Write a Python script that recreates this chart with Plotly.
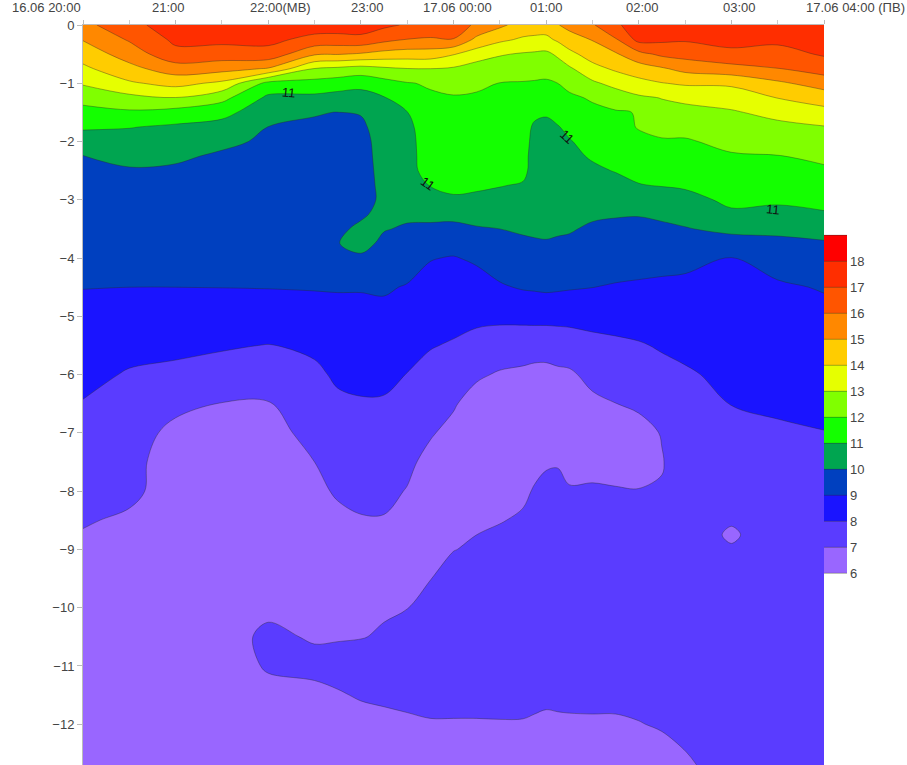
import numpy as np
import plotly.graph_objects as go

# hours after 16.06 20:00
hours = [0, .5, 1, 1.5, 2, 2.5, 2.75, 3, 3.25, 3.5, 3.75, 4, 4.25, 4.5, 4.75, 4.875, 5, 5.125, 5.25, 5.5, 5.75, 6, 6.25, 6.5, 7, 7.5, 8]
depths = [0, -.25, -.5, -.75, -1, -1.25, -1.5, -1.75, -2, -2.25, -2.5, -2.75, -3, -3.25, -3.5, -3.75, -4,
          -4.5, -5, -5.5, -6, -6.5, -7, -7.5, -8, -8.5, -8.75, -9, -9.5, -10, -10.5, -11, -11.5, -12, -12.5, -12.7]

# temperature profiles, one per time, same order as depths
t2000 = [15.7,15.05,14.44,13.79,13.1,12.33,11.68,11.13,10.52,9.98,9.88,9.77,9.66,9.55,9.45,9.34,9.23,9.02,8.75,8.49,8.22,7.96,7.72,7.5,7.27,7.04,6.97,6.9,6.85,6.8,6.7,6.65,6.6,6.55,6.5,6.5]
t2030 = [16.7,16.1,15.43,14.71,13.86,12.72,11.85,11.04,10.6,10.18,9.94,9.82,9.7,9.58,9.47,9.35,9.24,9.0,8.63,8.25,7.93,7.72,7.51,7.31,7.1,6.93,6.9,6.88,6.84,6.8,6.75,6.7,6.65,6.6,6.55,6.5]
t2100 = [17.5,17.2,16.72,15.51,14.32,12.97,11.62,10.85,10.47,10.09,9.92,9.8,9.69,9.57,9.46,9.34,9.23,9.0,8.6,8.22,7.78,7.28,6.7,6.5,6.8,6.7,6.7,6.7,6.72,6.72,6.7,6.68,6.65,6.6,6.55,6.5]
t2130 = [17.5,17.25,16.53,15.34,13.78,12.3,11.3,10.65,10.12,9.92,9.82,9.72,9.62,9.52,9.41,9.31,9.21,9.01,8.57,8.11,7.56,6.97,6.9,6.8,6.75,6.72,6.72,6.72,6.75,6.75,6.8,6.75,6.68,6.62,6.57,6.52]
t2200 = [17.5,17.25,16.65,14.92,11.7,10.8,10.39,9.99,9.91,9.82,9.74,9.65,9.56,9.47,9.38,9.29,9.2,9.03,8.5,7.97,7.43,6.95,6.7,6.85,6.8,6.8,6.8,6.8,6.85,6.9,7.1,7.05,6.85,6.7,6.6,6.55]
t2230 = [17.5,16.7,15.12,12.96,11.63,10.77,10.03,9.93,9.84,9.76,9.68,9.6,9.52,9.44,9.36,9.28,9.2,9.05,8.66,8.17,7.82,7.55,7.27,7.0,6.9,6.85,6.85,6.85,6.85,6.9,6.95,7.15,6.85,6.75,6.6,6.55]
t2245 = [17.5,16.65,15.05,12.79,11.48,10.63,9.99,9.92,9.83,9.75,9.67,9.59,9.5,9.55,9.8,9.97,9.55,9.05,8.78,8.46,8.14,7.84,7.59,7.32,7.05,6.9,6.87,6.85,6.85,6.9,6.96,7.2,6.95,6.78,6.62,6.57]
t2300 = [17.5,16.73,14.89,12.6,11.3,10.61,10.08,9.75,9.6,9.55,9.5,9.45,9.45,9.85,10.2,10.3,9.85,9.05,8.78,8.49,8.2,7.93,7.68,7.43,7.19,6.95,6.92,6.9,6.9,6.95,6.98,7.25,7.05,6.8,6.65,6.6]
t2315 = [17.2,16.27,14.63,12.83,11.63,10.95,10.8,10.65,10.5,10.45,10.4,10.35,10.3,10.3,10.05,9.8,9.55,9.1,8.77,8.48,8.19,7.92,7.68,7.44,7.2,6.95,6.92,6.9,6.92,6.95,7.05,7.3,7.1,6.85,6.7,6.65]
t2330 = [16.9,15.97,14.52,12.98,11.94,11.42,10.98,10.75,10.72,10.78,10.85,10.7,10.45,10.15,9.9,9.66,9.41,8.94,8.62,8.3,7.98,7.72,7.45,7.18,6.96,6.95,6.95,6.95,6.96,6.99,7.15,7.3,7.15,6.9,6.75,6.7]
t2345 = [16.6,15.9,14.5,13.0,12.1,11.87,11.73,11.59,11.45,11.31,11.17,11.03,10.66,10.23,9.82,9.44,9.04,8.7,8.37,8.05,7.73,7.4,7.08,6.75,6.95,6.95,6.96,6.97,6.99,7.2,7.35,7.4,7.2,6.95,6.8,6.75]
t0000 = [16.3,15.98,14.06,12.88,12.29,11.93,11.79,11.66,11.53,11.39,11.26,11.12,10.93,10.27,9.74,9.31,8.95,8.61,8.27,7.92,7.5,7.09,6.75,6.94,6.94,6.95,6.97,6.99,7.14,7.32,7.45,7.5,7.2,6.95,6.8,6.75]
t0015 = [15.9,14.74,13.51,12.53,12.15,11.9,11.77,11.63,11.5,11.37,11.23,11.1,10.87,10.38,9.91,9.52,9.13,8.64,8.2,7.7,7.14,6.6,6.93,6.93,6.93,6.96,7.0,7.05,7.25,7.4,7.5,7.55,7.2,6.95,6.8,6.75]
t0030 = [15.2,14.2,13.08,12.49,11.98,11.85,11.72,11.58,11.45,11.31,11.18,11.04,10.73,10.37,10.0,9.73,9.45,8.9,8.19,7.56,6.9,6.93,6.92,6.92,6.93,6.98,7.06,7.15,7.35,7.5,7.55,7.6,7.25,6.95,6.8,6.75]
t0045 = [14.6,13.86,12.91,12.35,11.95,11.8,11.66,11.53,11.39,11.25,11.2,10.93,10.66,10.38,10.11,9.85,9.59,9.08,8.23,7.47,6.8,6.92,6.9,6.9,6.93,7.05,7.15,7.25,7.4,7.5,7.6,7.6,7.22,6.95,6.8,6.75]
t0052 = [14.5,13.8,12.85,12.33,11.92,11.65,11.3,10.8,10.7,10.7,10.7,10.6,10.45,10.3,10.15,9.9,9.65,9.12,8.25,7.45,6.7,6.8,6.85,6.9,7.03,7.3,7.4,7.45,7.5,7.55,7.6,7.55,7.15,6.92,6.77,6.72]
t0100 = [14.5,13.77,12.79,12.31,11.88,11.51,11.14,10.7,10.6,10.58,10.55,10.45,10.33,10.22,10.1,9.96,9.7,9.17,8.26,7.43,6.7,6.9,6.88,6.95,7.12,7.35,7.43,7.5,7.55,7.6,7.6,7.5,7.1,6.9,6.75,6.7]
t0107 = [14.95,14.15,13.15,12.53,12.0,11.65,11.3,10.95,10.8,10.7,10.6,10.5,10.35,10.2,10.1,9.9,9.65,9.13,8.26,7.5,6.8,6.85,6.88,6.96,7.15,7.33,7.4,7.48,7.55,7.6,7.58,7.48,7.12,6.91,6.76,6.71]
t0115 = [15.3,14.56,13.73,12.85,12.27,11.83,11.51,11.2,10.94,10.8,10.65,10.51,10.36,10.21,10.07,9.86,9.6,9.08,8.27,7.55,6.85,6.92,6.9,6.93,7.02,7.3,7.38,7.45,7.55,7.6,7.55,7.45,7.13,6.92,6.77,6.72]
t0130 = [15.9,15.05,14.43,13.68,12.83,12.1,11.79,11.56,11.32,11.09,10.85,10.6,10.36,10.12,9.88,9.67,9.45,9.01,8.3,7.74,7.27,6.8,6.92,6.95,7.02,7.25,7.33,7.4,7.5,7.55,7.5,7.4,7.13,6.93,6.78,6.73]
t0145 = [16.8,15.9,14.88,14.15,13.3,12.47,11.91,11.7,11.48,11.26,11.04,10.73,10.39,10.06,9.82,9.6,9.39,8.93,8.35,7.83,7.41,6.99,6.94,6.95,7.01,7.2,7.28,7.35,7.45,7.5,7.45,7.35,7.13,6.93,6.78,6.73]
t0200 = [17.6,17.3,15.7,14.51,13.7,12.84,12.04,12.05,11.8,11.39,11.19,10.97,10.5,10.04,9.79,9.57,9.34,8.88,8.39,7.93,7.53,7.12,6.75,6.9,7.01,7.15,7.22,7.3,7.4,7.45,7.42,7.35,7.15,6.98,6.82,6.77]
t0215 = [17.7,17.2,16.2,14.88,13.96,13.03,12.68,12.27,11.91,11.62,11.33,11.04,10.61,10.16,9.83,9.56,9.29,8.83,8.45,8.08,7.76,7.44,7.04,6.96,7.05,7.35,7.42,7.5,7.55,7.55,7.5,7.4,7.3,7.05,6.85,6.8]
t0230 = [17.7,17.1,16.38,15.3,14.13,13.22,12.69,12.28,11.91,11.64,11.38,11.12,10.71,10.34,9.94,9.59,9.23,8.8,8.5,8.2,7.9,7.7,7.5,7.4,7.5,7.55,7.4,7.6,7.6,7.55,7.5,7.45,7.35,7.2,6.98,6.9]
t0300 = [17.7,17.3,16.77,15.63,14.17,13.44,12.9,12.57,12.23,11.92,11.68,11.43,11.19,10.85,10.24,9.57,8.98,8.78,8.59,8.4,8.2,8.01,7.9,7.8,7.6,7.07,6.9,7.07,7.5,7.55,7.55,7.5,7.45,7.4,7.35,7.3]
t0330 = [17.7,17.2,16.66,15.97,14.82,14.02,13.28,12.76,12.36,11.97,11.7,11.42,11.14,10.74,10.23,9.76,9.3,8.9,8.68,8.49,8.3,8.11,7.9,7.85,7.8,7.75,7.4,7.65,7.6,7.6,7.55,7.55,7.5,7.45,7.4,7.4]
t0400 = [17.7,17.4,17.1,16.45,15.43,14.47,13.67,12.95,12.57,12.2,11.86,11.56,11.26,10.91,10.35,9.9,9.61,9.05,8.81,8.6,8.4,8.19,7.98,7.9,7.85,7.8,7.78,7.75,7.7,7.7,7.65,7.6,7.6,7.55,7.5,7.5]

profiles = [t2000, t2030, t2100, t2130, t2200, t2230, t2245, t2300, t2315, t2330, t2345, t0000, t0015,
            t0030, t0045, t0052, t0100, t0107, t0115, t0130, t0145, t0200, t0215, t0230, t0300, t0330, t0400]

hour_ticks = [0, 1, 2, 3, 4, 5, 6, 7, 8]
hour_labels = ["16.06 20:00", "21:00", "22:00(МВ)", "23:00", "17.06 00:00", "01:00", "02:00", "03:00", "17.06 04:00 (ПВ)"]
hour_label_shift = [-36.5, -7, 12, 7, 3.6, 0, 4, 8, 31]
depth_ticks = [0, -1, -2, -3, -4, -5, -6, -7, -8, -9, -10, -11, -12]
band_ticks = [6, 7, 8, 9, 10, 11, 12, 13, 14, 15, 16, 17, 18]
band_colors = ["#9966FF", "#5A3CFF", "#1A14FF", "#0040BF", "#00A550", "#14FF00", "#80FF00",
               "#E6FF00", "#FFCC00", "#FF8800", "#FF5500", "#FF2E00", "#FF0000"]
label_hours = [2.22, 3.72, 5.22, 7.45]
label_depths = [-1.15, -2.72, -1.92, -3.17]
label_angles = [5, 35, 42, 5]

assert len(profiles) == len(hours)
for p in profiles:
    assert len(p) == len(depths), len(p)

z = np.array(profiles).T

n = len(band_colors)
colorscale = []
for i, c in enumerate(band_colors):
    colorscale.append([i / n, c])
    colorscale.append([(i + 1) / n, c])

FONT = "Liberation Sans, Arial, sans-serif"

fig = go.Figure(go.Contour(
    x=hours, y=depths, z=z,
    zmin=6, zmax=19,
    autocontour=False,
    contours=dict(start=6, end=19, size=1, coloring="fill", showlines=True),
    line=dict(color="rgba(40,40,40,0.65)", width=0.6, smoothing=1),
    colorscale=colorscale,
    colorbar=dict(
        x=1.0, xanchor="left", xpad=0,
        y=(765 - 235) / 740, yanchor="top", ypad=0,
        lenmode="pixels", len=338,
        thicknessmode="pixels", thickness=23,
        outlinewidth=0, tickmode="array", tickvals=band_ticks,
        ticks="", ticklen=0,
        tickfont=dict(family=FONT, size=13, color="#444"),
    ),
    hoverinfo="skip",
))

fig.update_layout(
    width=907, height=765,
    margin=dict(l=83, r=83, t=25, b=0, autoexpand=False),
    paper_bgcolor="white", plot_bgcolor="white",
    font=dict(family=FONT, size=13, color="#444"),
    xaxis=dict(
        side="top", range=[0, 8], tickmode="array", tickvals=hour_ticks, showticklabels=False,
        ticks="outside", ticklen=4, tickcolor="#bbb", showgrid=False, zeroline=False,
        showline=True, linecolor="#bbb", linewidth=1,
        minor=dict(tickmode="array", tickvals=[.5, 1.5, 2.5, 3.5, 4.5, 5.5, 6.5, 7.5], ticks="outside", ticklen=4, tickcolor="#ccc"),
    ),
    yaxis=dict(
        range=[-12.7, 0], tickmode="array", tickvals=depth_ticks,
        ticks="outside", ticklen=5, tickcolor="#bbb", showgrid=False, zeroline=False,
        showline=True, linecolor="#bbb", linewidth=1,
    ),
)

for hx, text, dx in zip(hour_ticks, hour_labels, hour_label_shift):
    fig.add_annotation(x=hx, xref="x", y=1, yref="paper", yanchor="middle", yshift=18, xshift=dx,
                       text=text, showarrow=False, font=dict(family=FONT, size=13, color="#444"))

for hx, dy, ang in zip(label_hours, label_depths, label_angles):
    fig.add_annotation(x=hx, y=dy, text="11", showarrow=False, textangle=ang,
                       font=dict(family=FONT, size=13, color="#111"))

fig.write_html("out.html", config={"displayModeBar": False}, post_script="document.body.style.margin='0';")
